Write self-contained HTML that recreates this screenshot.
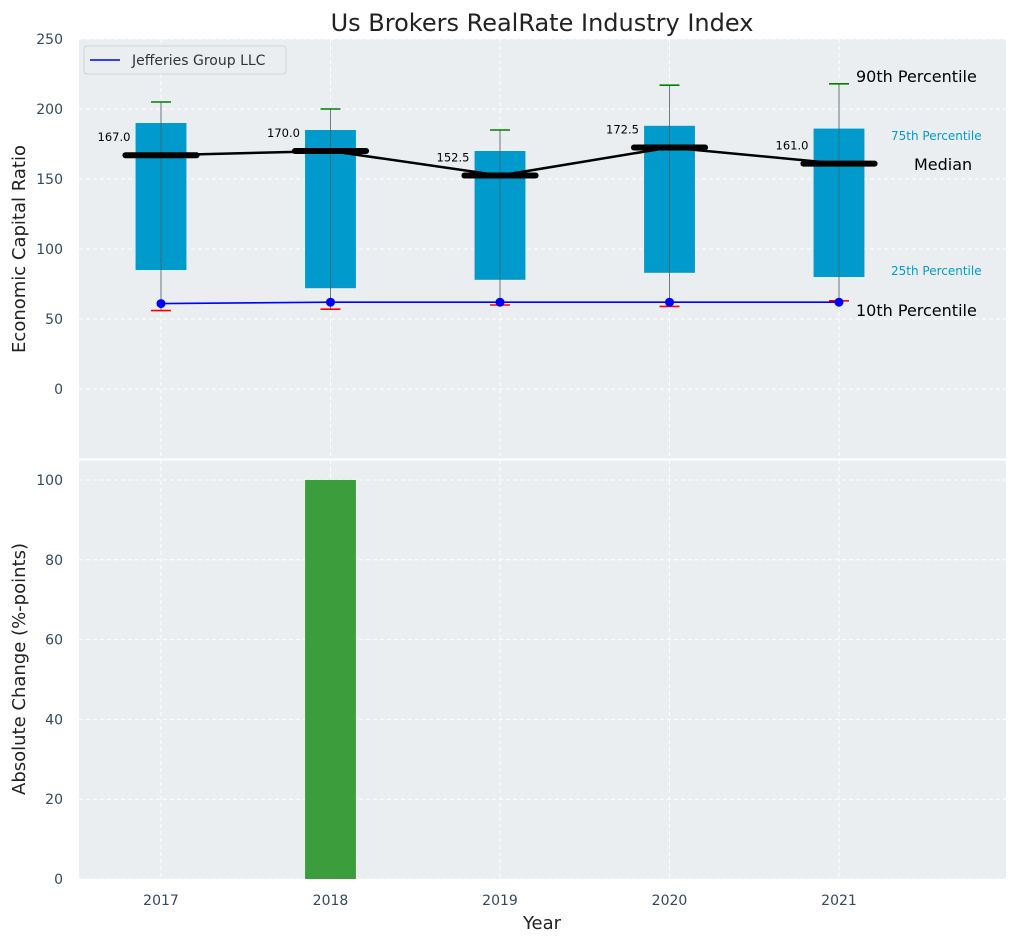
<!DOCTYPE html>
<html><head><meta charset="utf-8"><style>
body{margin:0;background:#fff;font-family:"DejaVu Sans","Liberation Sans",sans-serif;}
svg text{font-family:"DejaVu Sans","Liberation Sans",sans-serif;}
</style></head><body>
<svg id="c" width="1016" height="942" xmlns="http://www.w3.org/2000/svg"></svg>
<script>
const years=[2017,2018,2019,2020,2021];
const p25=[85,72,78,83,80];
const p75=[190,185,170,188,186];
const p90=[205,200,185,217,218];
const p10=[56,57,60,59,63];
const medians=[167,170,152.5,172.5,161];
const company=[61,62,62,62,62];
const changes=[0,100,0,0,0];
const topTicks=[0,50,100,150,200,250];
const botTicks=[0,20,40,60,80,100];

const NS="http://www.w3.org/2000/svg";
const svg=document.getElementById('c');
function el(t,a,txt){const e=document.createElementNS(NS,t);for(const k in a)e.setAttribute(k,a[k]);if(txt!==undefined)e.textContent=txt;svg.appendChild(e);return e;}
const L=79,R=1006;
const x=v=>161+(v-2017)*169.5;
const T0=39,T1=459, B0=460,B1=879;
const yt=v=>T1-(v+50)/300*(T1-T0);
const yb=v=>B1-v/105*(B1-B0);

let e;
e=el('rect',{x:L,y:T0,width:R-L,height:T1-T0,fill:'#eaeef0'});

e=el('rect',{x:L,y:B0,width:R-L,height:B1-B0,fill:'#eaeef0'});

topTicks.forEach(t=>{e=el('line',{x1:L,x2:R,y1:yt(t),y2:yt(t),stroke:'#fff','stroke-dasharray':'4,3','stroke-width':1});

e=el('text',{x:L-16,y:yt(t)+5,'text-anchor':'end','font-size':14,fill:'#34495e'},t);
});
botTicks.forEach(t=>{e=el('line',{x1:L,x2:R,y1:yb(t),y2:yb(t),stroke:'#fff','stroke-dasharray':'4,3','stroke-width':1});

e=el('text',{x:L-16,y:yb(t)+5,'text-anchor':'end','font-size':14,fill:'#34495e'},t);
});
years.forEach(y=>{[[T0,T1],[B0,B1]].forEach(r=>{e=el('line',{x1:x(y),x2:x(y),y1:r[0],y2:r[1],stroke:'#fff','stroke-dasharray':'4,3'});
});
e=el('text',{x:x(y),y:B1+26,'text-anchor':'middle','font-size':14,fill:'#34495e'},y);
});
el('line',{x1:L,x2:R,y1:459.5,y2:459.5,stroke:'#fff','stroke-width':2});
const hw=0.15;
years.forEach((y,i)=>{
 e=el('line',{x1:x(y),x2:x(y),y1:yt(p90[i]),y2:yt(p10[i]),stroke:'#6b7b80','stroke-width':1});
 
 e=el('rect',{x:x(y-hw),y:yt(p75[i]),width:x(y+hw)-x(y-hw),height:yt(p25[i])-yt(p75[i]),fill:'#009bcc'});
 
 el('line',{x1:x(y),x2:x(y),y1:yt(p75[i]),y2:yt(p25[i]),stroke:'#2f6f80','stroke-width':1});
 e=el('line',{x1:x(y)-10,x2:x(y)+10,y1:yt(p90[i]),y2:yt(p90[i]),stroke:'green','stroke-width':1.6});
 
 e=el('line',{x1:x(y)-10,x2:x(y)+10,y1:yt(p10[i]),y2:yt(p10[i]),stroke:'red','stroke-width':1.6});
 
});
e=el('polyline',{points:years.map((y,i)=>x(y)+','+yt(medians[i])).join(' '),fill:'none',stroke:'#000','stroke-width':2.5});

years.forEach((y,i)=>{
 e=el('line',{x1:x(y-0.21),x2:x(y+0.21),y1:yt(medians[i]),y2:yt(medians[i]),stroke:'#000','stroke-width':6,'stroke-linecap':'round'});
 
 e=el('text',{x:x(y-0.18),y:yt(medians[i])-14,'text-anchor':'end','font-size':11.5,fill:'#000'},medians[i].toFixed(1));
 
});
e=el('polyline',{points:years.map((y,i)=>x(y)+','+yt(company[i])).join(' '),fill:'none',stroke:'blue','stroke-width':1.6});

years.forEach((y,i)=>{e=el('circle',{cx:x(y),cy:yt(company[i]),r:4.5,fill:'blue'});
});
[['90th Percentile',16,'#000',856,82],['75th Percentile',12,'#009bcc',891,140],['Median',16,'#000',914,170],['25th Percentile',12,'#009bcc',891,275],['10th Percentile',16,'#000',856,316]].forEach(a=>{
 e=el('text',{x:a[3],y:a[4],'font-size':a[1],fill:a[2]},a[0]);
 });
years.forEach((y,i)=>{if(changes[i]===0)return;
 e=el('rect',{x:x(y-hw),y:yb(changes[i]),width:x(y+hw)-x(y-hw),height:yb(0)-yb(changes[i]),fill:'#3c9d3c'});
 });
e=el('rect',{x:84,y:46,width:202,height:28,rx:3,fill:'#eaeef0',stroke:'#cfd4d6'});

el('line',{x1:90,x2:120,y1:60,y2:60,stroke:'blue','stroke-width':1.6});
e=el('text',{x:132,y:65,'font-size':14,fill:'#333'},'Jefferies Group LLC');

e=el('text',{x:542,y:31,'text-anchor':'middle','font-size':24,fill:'#222'},'Us Brokers RealRate Industry Index');

e=el('text',{x:542,y:929,'text-anchor':'middle','font-size':18,fill:'#222'},'Year');

e=el('text',{x:25,y:249,'text-anchor':'middle','font-size':18,fill:'#222',transform:'rotate(-90 25 249)'},'Economic Capital Ratio');

e=el('text',{x:25,y:669,'text-anchor':'middle','font-size':18,fill:'#222',transform:'rotate(-90 25 669)'},'Absolute Change (%-points)');

</script>
</body></html>
